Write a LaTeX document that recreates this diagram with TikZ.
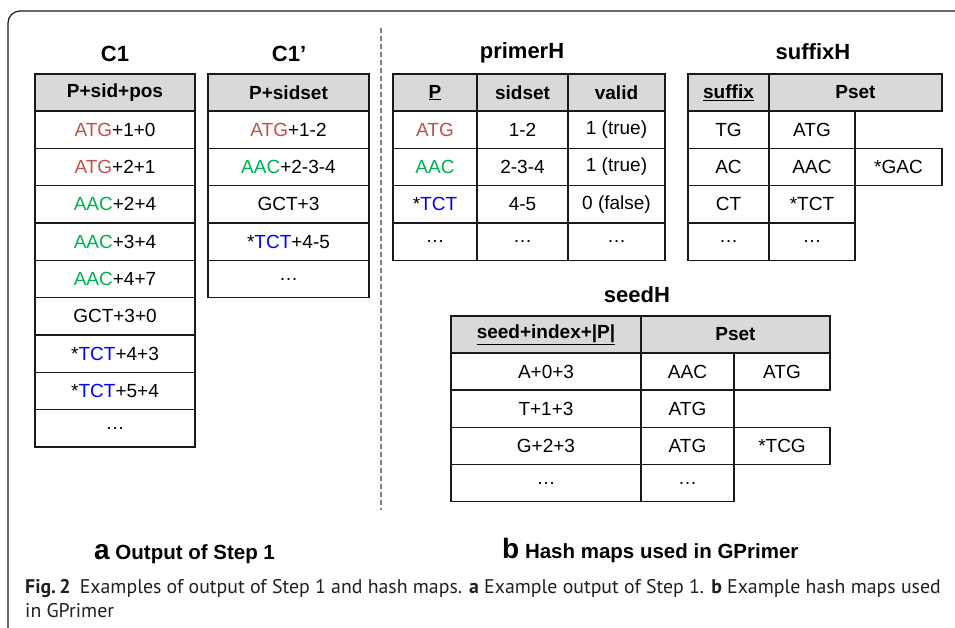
\documentclass[tikz,border=0pt]{standalone}
\usepackage{fontspec}
\setmainfont{Liberation Sans}
\newfontfamily\capfont{PT Sans}
\definecolor{atgred}{RGB}{192,80,77}
\definecolor{aacgreen}{RGB}{0,176,80}
\definecolor{tctblue}{RGB}{0,0,255}
\definecolor{hdrgrey}{RGB}{217,217,217}
\definecolor{linecol}{RGB}{25,25,25}
\definecolor{dashgrey}{RGB}{128,128,128}
\definecolor{captext}{RGB}{35,31,32}
\newcommand\ATGr{\textcolor{atgred}{ATG}}
\newcommand\AACg{\textcolor{aacgreen}{AAC}}
\newcommand\TCTb{*\textcolor{tctblue}{TCT}}
\begin{document}
\begin{tikzpicture}[x=1pt,y=-1pt,
  cell/.style={draw=linecol, line width=1.6pt, inner sep=0pt, minimum height=37.33pt,
    font=\fontsize{19}{22}\selectfont, anchor=center},
  hcell/.style={cell, fill=hdrgrey, font=\fontsize{19}{22}\selectfont\bfseries},
  ttl/.style={font=\fontsize{22}{25}\selectfont\bfseries, inner sep=0pt},
  plab/.style={anchor=base west, inner sep=0pt, font=\fontsize{20.5}{24}\selectfont\bfseries},
  captn/.style={anchor=base west, inner sep=0pt, text=captext, font=\capfont\fontsize{19.8}{23}\selectfont},
  cw/.style={minimum width=#1}]
\useasboundingbox (0,0) rectangle (955,628);
\fill[white] (0,0) rectangle (955,628);
% frame
\draw[linecol, line width=1.2pt, rounded corners=12pt] (970,11) -- (8,11) -- (8,650);
% divider
\draw[dashgrey, line width=1.3pt, dash pattern=on 5pt off 3pt] (381,28) -- (381,510);

% ---------- C1 ----------
\node[ttl] (t-c1) at (115,54) {C1};
\node[hcell, cw=160pt] (c1-h) at (115,92.5) {P+sid+pos};
\node[cell, cw=160pt] (c1-1) at (115,129.67) {\ATGr+1+0};
\node[cell, cw=160pt] (c1-2) at (115,167.00) {\ATGr+2+1};
\node[cell, cw=160pt] (c1-3) at (115,204.33) {\AACg+2+4};
\node[cell, cw=160pt] (c1-4) at (115,241.67) {\AACg+3+4};
\node[cell, cw=160pt] (c1-5) at (115,279.00) {\AACg+4+7};
\node[cell, cw=160pt] (c1-6) at (115,316.33) {GCT+3+0};
\node[cell, cw=160pt] (c1-7) at (115,353.67) {\TCTb+4+3};
\node[cell, cw=160pt] (c1-8) at (115,391.00) {\TCTb+5+4};
\node[cell, cw=160pt] (c1-9) at (115,428.33) {…};

% ---------- C1' ----------
\node[ttl] (t-c1p) at (289,54) {C1’};
\node[hcell, cw=161pt] (c1p-h) at (288.5,92.5) {P+sidset};
\node[cell, cw=161pt] (c1p-1) at (288.5,129.67) {\ATGr+1-2};
\node[cell, cw=161pt] (c1p-2) at (288.5,167.00) {\AACg+2-3-4};
\node[cell, cw=161pt] (c1p-3) at (288.5,204.33) {GCT+3};
\node[cell, cw=161pt] (c1p-4) at (288.5,241.67) {\TCTb+4-5};
\node[cell, cw=161pt] (c1p-5) at (288.5,279.00) {…};

% ---------- primerH ----------
\node[ttl] (t-ph) at (522,53) {primerH};
\node[hcell, cw=84pt] (ph-h1) at (435,92.5) {\underline{P}};
\node[hcell, cw=91pt] (ph-h2) at (522.5,92.5) {sidset};
\node[hcell, cw=97pt] (ph-h3) at (616.5,92.5) {valid};
\node[cell, cw=84pt] (ph-11) at (435,129.67) {\ATGr};
\node[cell, cw=91pt] (ph-12) at (522.5,129.67) {1-2};
\node[cell, cw=97pt] (ph-13) at (616.5,129.67) {1 (true)};
\node[cell, cw=84pt] (ph-21) at (435,167.00) {\AACg};
\node[cell, cw=91pt] (ph-22) at (522.5,167.00) {2-3-4};
\node[cell, cw=97pt] (ph-23) at (616.5,167.00) {1 (true)};
\node[cell, cw=84pt] (ph-31) at (435,204.33) {\TCTb};
\node[cell, cw=91pt] (ph-32) at (522.5,204.33) {4-5};
\node[cell, cw=97pt] (ph-33) at (616.5,204.33) {0 (false)};
\node[cell, cw=84pt] (ph-41) at (435,241.67) {…};
\node[cell, cw=91pt] (ph-42) at (522.5,241.67) {…};
\node[cell, cw=97pt] (ph-43) at (616.5,241.67) {…};

% ---------- suffixH ----------
\node[ttl] (t-sh) at (813,52) {suffixH};
\node[hcell, cw=81pt] (sh-h1) at (728.5,92.5) {\underline{suffix}};
\node[hcell, cw=173pt] (sh-h2) at (855.5,92.5) {Pset};
\node[cell, cw=81pt] (sh-11) at (728.5,129.67) {TG};
\node[cell, cw=86pt] (sh-12) at (812,129.67) {ATG};
\node[cell, cw=81pt] (sh-21) at (728.5,167.00) {AC};
\node[cell, cw=86pt] (sh-22) at (812,167.00) {AAC};
\node[cell, cw=87pt] (sh-23) at (898.5,167.00) {*GAC};
\node[cell, cw=81pt] (sh-31) at (728.5,204.33) {CT};
\node[cell, cw=86pt] (sh-32) at (812,204.33) {*TCT};
\node[cell, cw=81pt] (sh-41) at (728.5,241.67) {…};
\node[cell, cw=86pt] (sh-42) at (812,241.67) {…};

% ---------- seedH ----------
\node[ttl] (t-sd) at (637,295) {seedH};
\node[hcell, cw=190pt, minimum height=37pt] (sd-h1) at (546,334.5) {\underline{seed+index+|P|}};
\node[hcell, cw=189pt, minimum height=37pt] (sd-h2) at (735.5,334.5) {Pset};
\node[cell, cw=190pt, minimum height=37.17pt] (sd-11) at (546,371.6) {A+0+3};
\node[cell, cw=93pt, minimum height=37.17pt] (sd-12) at (687.5,371.6) {AAC};
\node[cell, cw=96pt, minimum height=37.17pt] (sd-13) at (782,371.6) {ATG};
\node[cell, cw=190pt, minimum height=37.17pt] (sd-21) at (546,408.75) {T+1+3};
\node[cell, cw=93pt, minimum height=37.17pt] (sd-22) at (687.5,408.75) {ATG};
\node[cell, cw=190pt, minimum height=37.17pt] (sd-31) at (546,445.9) {G+2+3};
\node[cell, cw=93pt, minimum height=37.17pt] (sd-32) at (687.5,445.9) {ATG};
\node[cell, cw=96pt, minimum height=37.17pt] (sd-33) at (782,445.9) {*TCG};
\node[cell, cw=190pt, minimum height=37.17pt] (sd-41) at (546,483.1) {…};
\node[cell, cw=93pt, minimum height=37.17pt] (sd-42) at (687.5,483.1) {…};

% ---------- panel labels ----------
\node[plab] (lab-a) at (94,559) {{\fontsize{28}{31}\selectfont a} Output of Step 1};
\node[plab] (lab-b) at (502,558) {{\fontsize{28}{31}\selectfont b} Hash maps used in GPrimer};

% ---------- caption ----------
\node[captn] (cap-1) at (25,593)
  {\textbf{Fig.\,2}\hspace{0.2em} Examples of output of Step 1 and hash maps. \textbf{a} Example output of Step 1. \textbf{b} Example hash maps used};
\node[captn] (cap-2) at (25,617) {in GPrimer};
\end{tikzpicture}
\end{document}
